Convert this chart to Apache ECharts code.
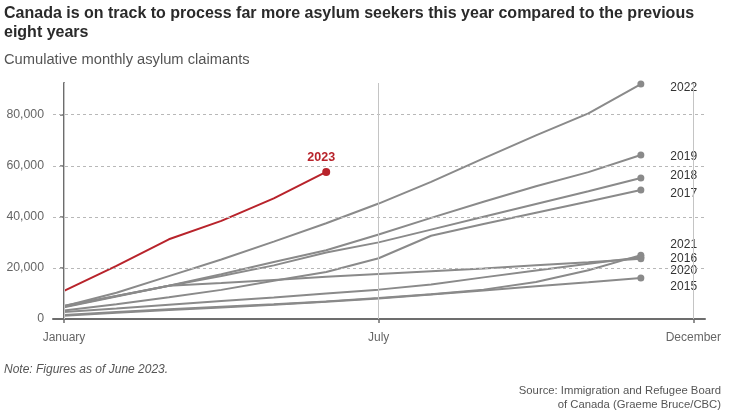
<!DOCTYPE html>
<html><head><meta charset="utf-8">
<script src="https://cdn.jsdelivr.net/npm/echarts@6/dist/echarts.min.js"></script>
<style>html,body{margin:0;padding:0;background:#fff}#c{width:732px;height:415px}</style>
</head><body><div id="c"></div>
<script>
// ---- data ----
const monthNames = ['January','February','March','April','May','June','July','August','September','October','November','December'];
const tickPositions = [0, 6, 12];
const tickLabels = ['January', 'July', 'December'];
const yTickValues = [0, 20000, 40000, 60000, 80000];
const gridValues = [20000, 40000, 60000, 80000];

const y2015 = [1300, 2400, 3500, 4500, 5600, 6800, 8000, 9600, 11200, 12800, 14400, 16100];
const y2016 = [2700, 4100, 5600, 7000, 8400, 10000, 11500, 13500, 16300, 19000, 21600, 24200];
const y2017 = [3300, 5800, 8500, 11400, 15000, 18400, 23800, 32600, 37200, 41600, 46000, 50500];
const y2018 = [5200, 9000, 13000, 16800, 21000, 26000, 30000, 35000, 40000, 45000, 50000, 55200];
const y2019 = [4600, 8800, 13000, 17500, 22300, 26900, 33100, 39600, 45900, 52000, 57500, 64200];
const y2020 = [4800, 9000, 13000, 14100, 15300, 16500, 17600, 18700, 19800, 21000, 22200, 23600];
const y2021 = [1600, 2700, 3800, 4800, 5800, 6900, 8200, 9700, 11500, 14500, 19100, 25000];
const y2022 = [5000, 10300, 16800, 23300, 30300, 37500, 45200, 53700, 62900, 71900, 80500, 92000];
const y2023 = [11000, 20800, 31200, 38400, 47200, 57600];

const pastYears = [
  {name: '2015', values: y2015},
  {name: '2016', values: y2016},
  {name: '2017', values: y2017},
  {name: '2018', values: y2018},
  {name: '2019', values: y2019},
  {name: '2020', values: y2020},
  {name: '2021', values: y2021},
  {name: '2022', values: y2022}
];

// ---- style ----
const FONT = "'Liberation Sans', Arial, sans-serif";
const GRAY = '#8a8a8a';
const RED = '#b8232b';
const labelDy = {'2015': 9, '2016': 1, '2017': 4, '2018': -2, '2019': 2, '2020': 12, '2021': -10, '2022': 4};

function toPoints(vals) { return vals.map((v, i) => [i, v]); }

const series = pastYears.map(y => {
  const pts = toPoints(y.values);
  const last = pts.length - 1;
  return {
    name: y.name, type: 'line', silent: true, z: 2,
    data: pts.map((p, i) => i === last ? {
      value: p, symbol: 'circle', symbolSize: 7,
      label: {show: true, formatter: y.name, position: 'right', distance: 26, offset: [0, labelDy[y.name]],
        color: '#333', fontSize: 12, fontFamily: FONT}
    } : {value: p, symbol: 'none'}),
    symbol: 'none', showSymbol: true,
    lineStyle: {color: GRAY, width: 2},
    itemStyle: {color: GRAY},
    animation: false
  };
});

const pts23 = toPoints(y2023);
series.push({
  name: '2023', type: 'line', silent: true, z: 4,
  data: pts23.map((p, i) => i === pts23.length - 1 ? {
    value: p, symbol: 'circle', symbolSize: 8,
    label: {show: true, formatter: '2023', position: 'top', distance: 4, offset: [-5, 0],
      color: RED, fontSize: 12.5, fontWeight: 'bold', fontFamily: FONT}
  } : {value: p, symbol: 'none'}),
  symbol: 'none', showSymbol: true,
  lineStyle: {color: RED, width: 2},
  itemStyle: {color: RED},
  animation: false
});

// grid lines via markLine on a helper series
series.push({
  type: 'line', data: [], silent: true, z: 1,
  markLine: {
    silent: true, symbol: 'none', animation: false,
    label: {show: false},
    data: gridValues.map(v => ({yAxis: v, lineStyle: {color: '#b8b8b8', type: [3, 3], width: 1}}))
      .concat(tickPositions.map(v => ({xAxis: v, lineStyle: {color: '#c4c4c4', type: 'solid', width: 1}})))
  }
});

const chart = echarts.init(document.getElementById('c'), null, {renderer: 'canvas'});
chart.setOption({
  animation: false,
  backgroundColor: '#fff',
  textStyle: {fontFamily: FONT},
  title: [
    {text: 'Canada is on track to process far more asylum seekers this year compared to the previous\neight years',
     left: 4, top: 4, padding: 0,
     textStyle: {fontSize: 16, fontWeight: 'bold', color: '#2a2a2a', lineHeight: 19, fontFamily: FONT}},
    {text: 'Cumulative monthly asylum claimants', left: 4, top: 52, padding: 0,
     textStyle: {fontSize: 14.7, fontWeight: 'normal', color: '#555', fontFamily: FONT}},
    {text: 'Note: Figures as of June 2023.', left: 4, top: 364, padding: 0,
     textStyle: {fontSize: 12, fontStyle: 'italic', fontWeight: 'normal', color: '#555', fontFamily: FONT}}
  ],
  graphic: [
    {type: 'text', silent: true,
     style: {text: 'Source: Immigration and Refugee Board\nof Canada (Graeme Bruce/CBC)', x: 721, y: 384,
       textAlign: 'right', textVerticalAlign: 'top', align: 'right', fontSize: 11.3, lineHeight: 14, fill: '#555', fontFamily: FONT}}
  ],
  grid: {left: 53, right: 27, top: 83, bottom: 96, containLabel: false},
  xAxis: {
    type: 'value', min: -0.21, max: 12.223,
    axisLine: {show: true, onZero: false, lineStyle: {color: '#6d6d6d', width: 2}},
    axisTick: {show: true, customValues: tickPositions, length: 4, lineStyle: {color: '#6d6d6d', width: 1.5}},
    axisLabel: {show: true, customValues: tickPositions, margin: 13, color: '#666', fontSize: 12, fontFamily: FONT,
      formatter: v => tickLabels[tickPositions.indexOf(v)] || ''},
    splitLine: {show: false}
  },
  yAxis: {
    type: 'value', min: 0, max: 92400,
    axisLine: {show: true, lineStyle: {color: '#6d6d6d', width: 2}},
    axisTick: {show: true, customValues: yTickValues, length: 4, lineStyle: {color: '#6d6d6d', width: 1.5}},
    axisLabel: {show: true, customValues: yTickValues, margin: 9, color: '#666', fontSize: 12.3, fontFamily: FONT,
      formatter: v => v.toLocaleString('en-US')},
    splitLine: {show: false}
  },
  series: series
});
</script></body></html>
